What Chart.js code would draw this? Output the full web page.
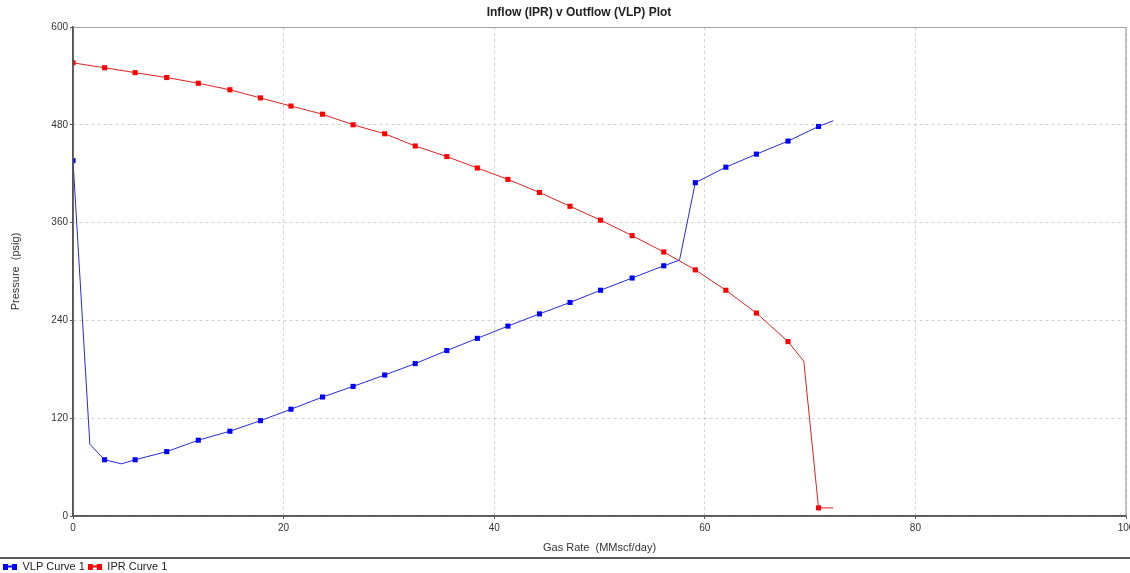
<!DOCTYPE html>
<html>
<head>
<meta charset="utf-8">
<script src="https://cdn.jsdelivr.net/npm/chart.js@4.4.1/dist/chart.umd.min.js"></script>
<style>
  html, body { margin: 0; padding: 0; background: #fff; }
  #wrap { width: 1130px; height: 573px; }
</style>
</head>
<body>
<div id="wrap"><canvas id="chart" width="1130" height="573"></canvas></div>
<script>
// VLP curve (gas rate MMscf/day, pressure psig)
const vlpRate = [0, 1.6, 3.0, 4.6, 5.9, 8.9, 11.9, 14.9, 17.8, 20.7, 23.7, 26.6, 29.6, 32.5, 35.5,
  38.4, 41.3, 44.3, 47.2, 50.1, 53.1, 56.1, 57.6, 59.1, 62.0, 64.9, 67.9, 70.8, 72.2];
const vlpPressure = [436, 88, 69, 64, 69, 79, 93, 104, 117, 131, 146, 159, 173, 187, 203,
  218, 233, 248, 262, 277, 292, 307, 314, 409, 428, 444, 460, 478, 485];
const vlpBends = [1, 3, 22, 28]; // curve points drawn without a marker

// IPR curve
const iprRate = [0, 3.0, 5.9, 8.9, 11.9, 14.9, 17.8, 20.7, 23.7, 26.6, 29.6, 32.5, 35.5, 38.4,
  41.3, 44.3, 47.2, 50.1, 53.1, 56.1, 59.1, 62.0, 64.9, 67.9, 69.4, 70.8, 72.2];
const iprPressure = [556, 550, 544, 538, 531, 523, 513, 503, 493, 480, 469, 454, 441, 427,
  413, 397, 380, 363, 344, 324, 302, 277, 249, 214, 190, 10, 10];
const iprBends = [24, 26];

const rateTicks = [0, 20, 40, 60, 80, 100];
const pressureTicks = [0, 120, 240, 360, 480, 600];

const toPoints = (xs, ys) => xs.map((x, i) => ({ x: x, y: ys[i] }));

// little "■-■" legend icon
function legendIcon(color) {
  const c = document.createElement("canvas");
  c.width = 14; c.height = 6;
  const g = c.getContext("2d");
  g.fillStyle = color;
  g.fillRect(0, 0, 5, 6);
  g.fillRect(9, 0, 5, 6);
  g.fillRect(4, 2, 6, 2);
  return c;
}

const frame = {
  id: "frame",
  beforeInit(chart) {
    const fit = chart.legend.fit;
    chart.legend.fit = function () {
      fit.bind(this)();
      this.height = 15;
    };
  },
  afterDraw(chart) {
    const { ctx, chartArea: a } = chart;
    ctx.save();
    // top / right border of the plot
    ctx.strokeStyle = "#a0a0a0";
    ctx.lineWidth = 1.2;
    ctx.beginPath();
    ctx.moveTo(a.left, a.top + 0.5);
    ctx.lineTo(a.right, a.top + 0.5);
    ctx.lineTo(a.right, a.bottom);
    ctx.stroke();
    // left / bottom axis lines (solid)
    ctx.strokeStyle = "#555";
    ctx.lineWidth = 1.5;
    ctx.beginPath();
    ctx.moveTo(a.left, a.top);
    ctx.lineTo(a.left, a.bottom);
    ctx.lineTo(a.right, a.bottom);
    ctx.stroke();
    // line above the legend
    ctx.strokeStyle = "#222";
    ctx.lineWidth = 1.5;
    ctx.beginPath();
    ctx.moveTo(0, 558);
    ctx.lineTo(chart.width, 558);
    ctx.stroke();
    // title
    ctx.fillStyle = "#222";
    ctx.font = "bold 12px 'Liberation Sans', Arial, sans-serif";
    ctx.textAlign = "center";
    ctx.textBaseline = "middle";
    ctx.fillText("Inflow (IPR) v Outflow (VLP) Plot", 579, 13);
    ctx.restore();
  }
};

const tickFont = { family: "'Liberation Sans', Arial, sans-serif", size: 10 };

new Chart(document.getElementById("chart"), {
  type: "scatter",
  data: {
    datasets: [
      {
        label: "VLP Curve 1",
        data: toPoints(vlpRate, vlpPressure),
        showLine: true,
        borderColor: "#2828e0",
        backgroundColor: "#0000ff",
        borderWidth: 1,
        pointStyle: "rect",
        pointRadius: ctx => (vlpBends.includes(ctx.dataIndex) ? 0 : 3.6),
        pointBorderWidth: 0,
        tension: 0
      },
      {
        label: "IPR Curve 1",
        data: toPoints(iprRate, iprPressure),
        showLine: true,
        borderColor: "#e02020",
        backgroundColor: "#ff0000",
        borderWidth: 1,
        pointStyle: "rect",
        pointRadius: ctx => (iprBends.includes(ctx.dataIndex) ? 0 : 3.6),
        pointBorderWidth: 0,
        tension: 0
      }
    ]
  },
  options: {
    responsive: false,
    animation: false,
    layout: { padding: { top: 27, right: 4, left: 0, bottom: 0 } },
    plugins: {
      tooltip: { enabled: false },
      legend: {
        position: "bottom",
        align: "start",
        labels: {
          usePointStyle: true,
          pointStyleWidth: 14,
          boxHeight: 6,
          padding: 3,
          color: "#222",
          font: { family: "'Liberation Sans', Arial, sans-serif", size: 11 },
          generateLabels(chart) {
            const items = Chart.defaults.plugins.legend.labels.generateLabels(chart);
            const colors = ["#0000ff", "#ff0000"];
            items.forEach((it, i) => { it.pointStyle = legendIcon(colors[i]); });
            return items;
          }
        }
      }
    },
    scales: {
      x: {
        type: "linear",
        min: 0,
        max: 100,
        afterFit(scale) {
          scale.height = 42;
          scale.paddingRight = 0;
        },
        afterBuildTicks(scale) { scale.ticks = rateTicks.map(v => ({ value: v })); },
        ticks: { color: "#333", font: tickFont, padding: 3, maxRotation: 0 },
        grid: {
          color: "#d2d2d2",
          tickColor: "#555",
          tickLength: 3,
          tickBorderDash: []
        },
        border: { color: "#555", width: 1.5, dash: [3, 3] },
        title: {
          display: true,
          text: "Gas Rate  (MMscf/day)",
          color: "#333",
          font: { family: "'Liberation Sans', Arial, sans-serif", size: 11 },
          padding: { top: 0, bottom: 3 }
        }
      },
      y: {
        type: "linear",
        min: 0,
        max: 600,
        afterFit(scale) { scale.width = 73; },
        afterBuildTicks(scale) { scale.ticks = pressureTicks.map(v => ({ value: v })); },
        ticks: { color: "#333", font: tickFont, padding: 2 },
        grid: {
          color: "#d2d2d2",
          tickColor: "#555",
          tickLength: 3,
          tickBorderDash: []
        },
        border: { color: "#555", width: 1.5, dash: [3, 3] },
        title: {
          display: true,
          text: "Pressure  (psig)",
          color: "#333",
          font: { family: "'Liberation Sans', Arial, sans-serif", size: 11 },
          padding: { top: 9, bottom: 0 }
        }
      }
    }
  },
  plugins: [frame]
});
</script>
</body>
</html>
